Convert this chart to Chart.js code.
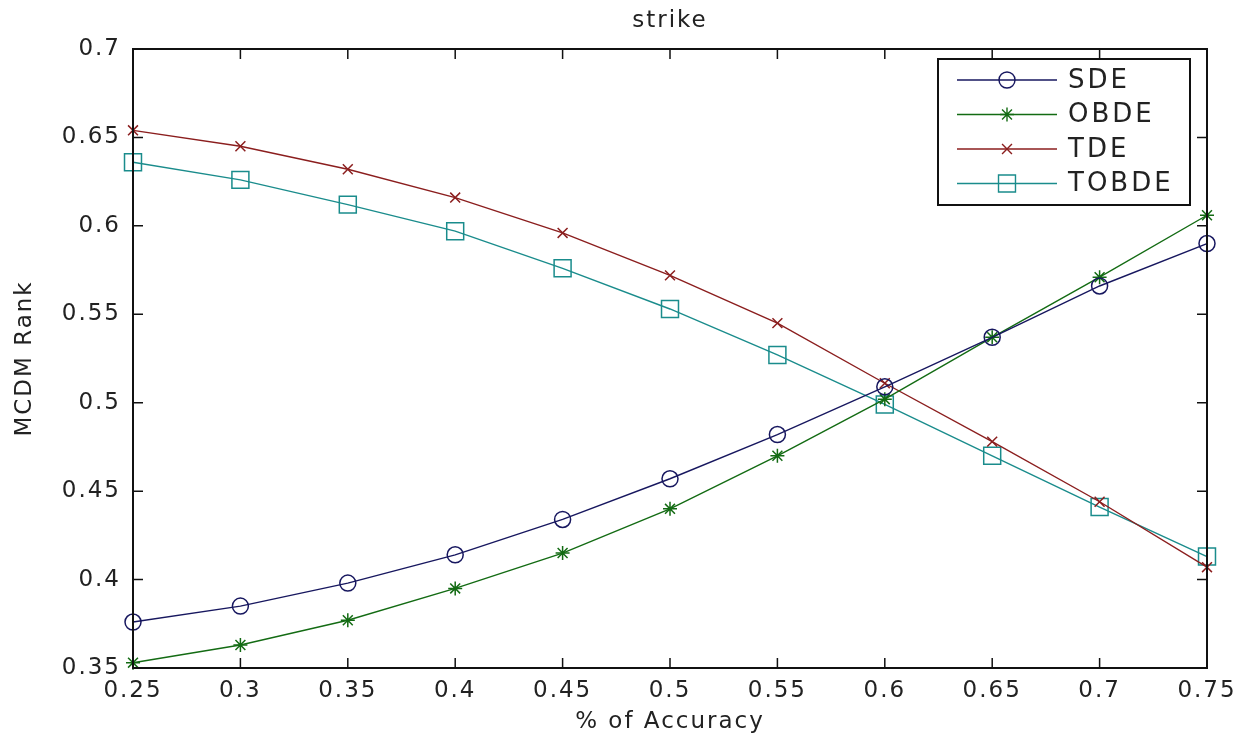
<!DOCTYPE html>
<html>
<head>
<meta charset="utf-8">
<title>strike</title>
<script src="https://cdn.jsdelivr.net/npm/chart.js@4.4.1/dist/chart.umd.min.js"></script>
<style>
  html, body { margin: 0; padding: 0; background: #fff; }
</style>
</head>
<body>
<canvas id="chart" width="1247" height="733"></canvas>
<script>
// x: accuracy level, one point per level for every method
const accuracy = [0.25, 0.3, 0.35, 0.4, 0.45, 0.5, 0.55, 0.6, 0.65, 0.7, 0.75];

const sde   = [0.376, 0.385, 0.398, 0.414, 0.434, 0.457, 0.482, 0.509, 0.537, 0.566, 0.590];
const obde  = [0.353, 0.363, 0.377, 0.395, 0.415, 0.440, 0.470, 0.502, 0.537, 0.571, 0.606];
const tde   = [0.654, 0.645, 0.632, 0.616, 0.596, 0.572, 0.545, 0.511, 0.478, 0.444, 0.407];
const tobde = [0.636, 0.626, 0.612, 0.597, 0.576, 0.553, 0.527, 0.499, 0.470, 0.441, 0.413];

const xTicks = [0.25, 0.3, 0.35, 0.4, 0.45, 0.5, 0.55, 0.6, 0.65, 0.7, 0.75];
const yTicks = [0.35, 0.4, 0.45, 0.5, 0.55, 0.6, 0.65, 0.7];

const FONT = "'DejaVu Sans', sans-serif";
const TEXT = '#222';

const series = [
    { label: 'SDE',   values: sde,   color: '#17175f', style: 'circle',   radius: 8 },
    { label: 'OBDE',  values: obde,  color: '#136b13', style: 'star',     radius: 7 },
    { label: 'TDE',   values: tde,   color: '#8b1e1e', style: 'crossRot', radius: 7 },
    { label: 'TOBDE', values: tobde, color: '#1a8c8c', style: 'rect',     radius: 12 }
];

const fmt = v => String(+Number(v).toFixed(2));

// Matlab-like axes: full box with inward tick marks, plus title on top
const boxPlugin = {
    id: 'box',
    beforeDraw(chart) {
        chart.ctx.letterSpacing = '2px';
    },
    afterDatasetsDraw(chart) {
        const { ctx, chartArea: a, scales: { x, y } } = chart;
        const len = 10;
        ctx.save();
        ctx.strokeStyle = '#111';
        ctx.lineWidth = 2;
        ctx.strokeRect(a.left, a.top, a.right - a.left, a.bottom - a.top);
        ctx.lineWidth = 1.5;
        ctx.beginPath();
        xTicks.forEach(v => {
            const px = x.getPixelForValue(v);
            ctx.moveTo(px, a.bottom); ctx.lineTo(px, a.bottom - len);
            ctx.moveTo(px, a.top);    ctx.lineTo(px, a.top + len);
        });
        yTicks.forEach(v => {
            const py = y.getPixelForValue(v);
            ctx.moveTo(a.left, py);  ctx.lineTo(a.left + len, py);
            ctx.moveTo(a.right, py); ctx.lineTo(a.right - len, py);
        });
        ctx.stroke();

        ctx.fillStyle = TEXT;
        ctx.font = '23px ' + FONT;
        ctx.textAlign = 'center';
        ctx.textBaseline = 'middle';
        ctx.fillText('strike', (a.left + a.right) / 2, 21);
        ctx.restore();
    }
};

// legend box in the upper right corner of the axes
const legendPlugin = {
    id: 'boxLegend',
    afterDraw(chart) {
        const { ctx, chartArea: a } = chart;
        const w = 252, h = 146;
        const left = a.right - 17 - w, top = a.top + 10;
        ctx.save();
        ctx.letterSpacing = '3px';
        ctx.fillStyle = '#fff';
        ctx.fillRect(left, top, w, h);
        ctx.strokeStyle = '#111';
        ctx.lineWidth = 2;
        ctx.strokeRect(left, top, w, h);

        ctx.font = '26px ' + FONT;
        ctx.textAlign = 'left';
        ctx.textBaseline = 'middle';
        chart.data.datasets.forEach((ds, i) => {
            const yy = top + 21 + i * 34.5;
            ctx.strokeStyle = ds.borderColor;
            ctx.lineWidth = 1.4;
            ctx.beginPath();
            ctx.moveTo(left + 19, yy);
            ctx.lineTo(left + 119, yy);
            ctx.stroke();
            ctx.fillStyle = 'rgba(0,0,0,0)';
            Chart.helpers.drawPoint(ctx, {
                pointStyle: ds.pointStyle,
                radius: ds.pointRadius,
                rotation: 0,
                borderWidth: ds.pointBorderWidth
            }, left + 69, yy);
            ctx.fillStyle = TEXT;
            ctx.fillText(ds.label, left + 130, yy + 1);
        });
        ctx.restore();
    }
};

const axisFont = { family: FONT, size: 23 };

new Chart(document.getElementById('chart'), {
    type: 'line',
    data: {
        datasets: series.map(s => ({
            label: s.label,
            data: accuracy.map((v, i) => ({ x: v, y: s.values[i] })),
            borderColor: s.color,
            borderWidth: 1.4,
            tension: 0,
            pointStyle: s.style,
            pointRadius: s.radius,
            pointHoverRadius: s.radius,
            pointBorderColor: s.color,
            pointBackgroundColor: 'rgba(0,0,0,0)',
            pointBorderWidth: 1.5,
            clip: false
        }))
    },
    options: {
        responsive: false,
        devicePixelRatio: 1,
        animation: false,
        layout: { padding: { top: 49, right: 40, bottom: 0, left: 0 } },
        plugins: {
            legend: { display: false },
            title: { display: false },
            tooltip: { enabled: false }
        },
        scales: {
            x: {
                type: 'linear',
                min: 0.25,
                max: 0.75,
                afterBuildTicks: s => { s.ticks = xTicks.map(v => ({ value: v })); },
                afterFit: s => { s.height = 65; },
                grid: { display: false },
                border: { display: false },
                ticks: {
                    font: axisFont,
                    color: TEXT,
                    padding: 1,
                    maxRotation: 0,
                    autoSkip: false,
                    callback: fmt
                },
                title: {
                    display: true,
                    text: '% of Accuracy',
                    font: axisFont,
                    color: TEXT,
                    padding: { top: 0, bottom: -3 }
                }
            },
            y: {
                min: 0.35,
                max: 0.7,
                afterBuildTicks: s => { s.ticks = yTicks.map(v => ({ value: v })); },
                afterFit: s => { s.width = 133; },
                grid: { display: false },
                border: { display: false },
                ticks: {
                    font: axisFont,
                    color: TEXT,
                    padding: 4,
                    autoSkip: false,
                    callback: fmt
                },
                title: {
                    display: true,
                    text: 'MCDM Rank',
                    font: axisFont,
                    color: TEXT,
                    padding: { top: 11, bottom: 0 }
                }
            }
        }
    },
    plugins: [boxPlugin, legendPlugin]
});
</script>
</body>
</html>
